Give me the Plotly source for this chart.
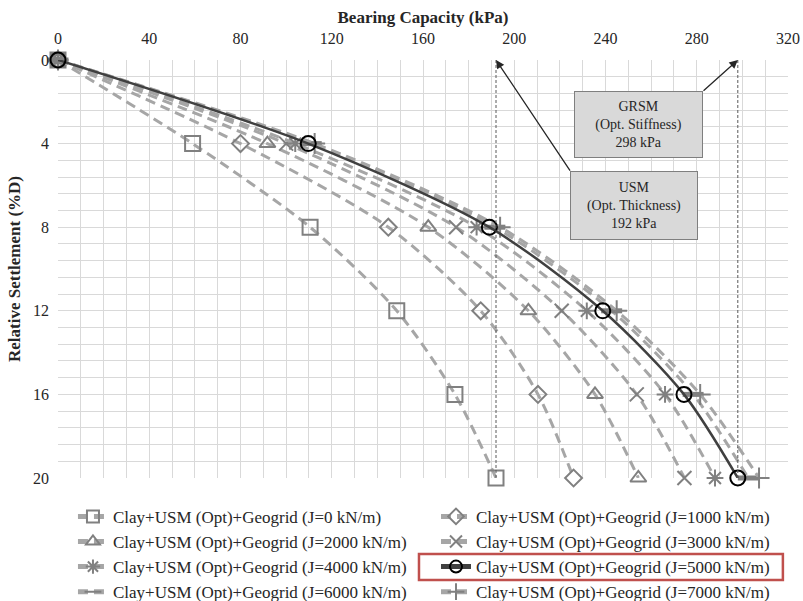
import plotly.graph_objects as go

# Relative settlement levels (%D) at which bearing capacity was recorded
settlement = [0, 4, 8, 12, 16, 20]

# Geogrid stiffness values (kN/m)
stiffness = [0, 1000, 2000, 3000, 4000, 5000, 6000, 7000]

# Bearing capacity (kPa) for each geogrid stiffness
q_j0 = [0, 59, 110.5, 148.5, 174, 192]
q_j1000 = [0, 80, 144.8, 185.3, 210.4, 226]
q_j2000 = [0, 91.8, 162.3, 206.2, 235.4, 254.4]
q_j3000 = [0, 100, 174.5, 220.8, 253.7, 274.6]
q_j4000 = [0, 104, 183.5, 231.8, 266.1, 288]
q_j5000 = [0, 109.7, 189.1, 238.8, 274.4, 298]
q_j6000 = [0, 111, 191.5, 242.7, 278.4, 302.6]
q_j7000 = [0, 112.5, 193.8, 244.9, 281.5, 307.3]

# Reference capacities highlighted on the chart
usm_capacity = 192
grsm_capacity = 298

series = [q_j0, q_j1000, q_j2000, q_j3000, q_j4000, q_j5000, q_j6000, q_j7000]
symbols = ["square-open", "diamond-open", "triangle-up-open", "x-thin-open",
           "asterisk-open", "circle-open", "line-ew-open", "cross-thin-open"]
sizes = [15, 13, 14, 14, 14, 15, 15, 15]

SERIF = "Liberation Serif"
TEXT = "#262626"
GREY_LINE = "#a6a6a6"
GREY_MARK = "#808080"

fig = go.Figure()

draw_order = [0, 1, 2, 3, 4, 6, 7, 5]  # optimum curve on top
for i in draw_order:
    J = stiffness[i]
    highlight = (J == 5000)
    mcol = "#000000" if highlight else GREY_MARK
    fig.add_trace(go.Scatter(
        x=series[i], y=settlement,
        mode="lines+markers",
        name=f"Clay+USM (Opt)+Geogrid (J={J} kN/m)",
        legend="legend" if i % 2 == 0 else "legend2",
        legendgroup=f"g{i}",
        legendrank=i + 1,
        cliponaxis=False,
        line=dict(shape="spline", smoothing=0.8,
                  color="#404040" if highlight else GREY_LINE,
                  width=2.5 if highlight else 3,
                  dash="solid" if highlight else "10px,6px"),
        marker=dict(symbol=symbols[i], size=sizes[i], color=mcol,
                    line=dict(width=5 if symbols[i] == "line-ew-open" else 2, color=mcol)),
    ))

# Vertical reference lines at the two capacities
for q in (usm_capacity, grsm_capacity):
    fig.add_shape(type="line", xref="x", yref="y", x0=q, x1=q, y0=0, y1=20,
                  line=dict(color="#595959", width=1, dash="3px,2px"), layer="above")

# Call-out boxes with arrows
fig.add_annotation(x=usm_capacity, y=0, xref="x", yref="y",
                   ax=224.9, ay=5.36, axref="x", ayref="y",
                   text="", showarrow=True, arrowhead=2, arrowsize=1.3,
                   arrowwidth=1.3, arrowcolor="#262626")
fig.add_annotation(x=grsm_capacity, y=0, xref="x", yref="y",
                   ax=282.3, ay=1.53, axref="x", ayref="y",
                   text="", showarrow=True, arrowhead=2, arrowsize=1.3,
                   arrowwidth=1.3, arrowcolor="#262626")
fig.add_annotation(x=254.5, y=3.09, xref="x", yref="y", showarrow=False,
                   text=f"GRSM<br>(Opt. Stiffness)<br>{grsm_capacity} kPa",
                   width=125, height=63, bgcolor="#d9d9d9", bordercolor="#7f7f7f",
                   borderwidth=1, font=dict(family=SERIF, size=14, color=TEXT))
fig.add_annotation(x=252.5, y=6.96, xref="x", yref="y", showarrow=False,
                   text=f"USM<br>(Opt. Thickness)<br>{usm_capacity} kPa",
                   width=124, height=65, bgcolor="#d9d9d9", bordercolor="#7f7f7f",
                   borderwidth=1, font=dict(family=SERIF, size=14, color=TEXT))

# Red frame around the optimum legend entry
fig.add_shape(type="rect", xref="paper", yref="paper",
              x0=0.4945, x1=0.993, y0=-0.244, y1=-0.1818,
              line=dict(color="#c0504d", width=2.5))

legend_common = dict(orientation="v", yref="container", yanchor="top", y=0.170,
                     xanchor="left", traceorder="normal", tracegroupgap=3,
                     itemsizing="constant", itemwidth=30,
                     bgcolor="rgba(0,0,0,0)",
                     font=dict(family=SERIF, size=17, color=TEXT))

fig.update_layout(
    width=803, height=601,
    margin=dict(l=58, r=15, t=60, b=123),
    paper_bgcolor="white", plot_bgcolor="white",
    font=dict(family=SERIF, size=16, color=TEXT),
    showlegend=True,
    legend=dict(x=0.0205, **legend_common),
    legend2=dict(x=0.5178, **legend_common),
    xaxis=dict(side="top", range=[0, 320], dtick=40, tick0=0,
               showgrid=True, gridcolor="#d9d9d9", gridwidth=1,
               minor=dict(dtick=10, showgrid=True, gridcolor="#d9d9d9", gridwidth=1),
               zeroline=False, showline=False, ticks="", automargin=False,
               ticklabelstandoff=12,
               tickfont=dict(family=SERIF, size=16, color=TEXT),
               title=dict(text="<b>Bearing Capacity (kPa)</b>", standoff=1,
                          font=dict(family=SERIF, size=17, color=TEXT))),
    yaxis=dict(range=[20, 0], dtick=4, tick0=0,
               showgrid=True, gridcolor="#d9d9d9", gridwidth=1,
               minor=dict(dtick=0.8, showgrid=True, gridcolor="#d9d9d9", gridwidth=1),
               zeroline=False, showline=False, ticks="", automargin=False,
               ticklabelstandoff=8,
               tickfont=dict(family=SERIF, size=16, color=TEXT),
               title=dict(text="<b>Relative Settlement (%D)</b>", standoff=8,
                          font=dict(family=SERIF, size=17, color=TEXT))),
)

fig.write_html("out.html")
